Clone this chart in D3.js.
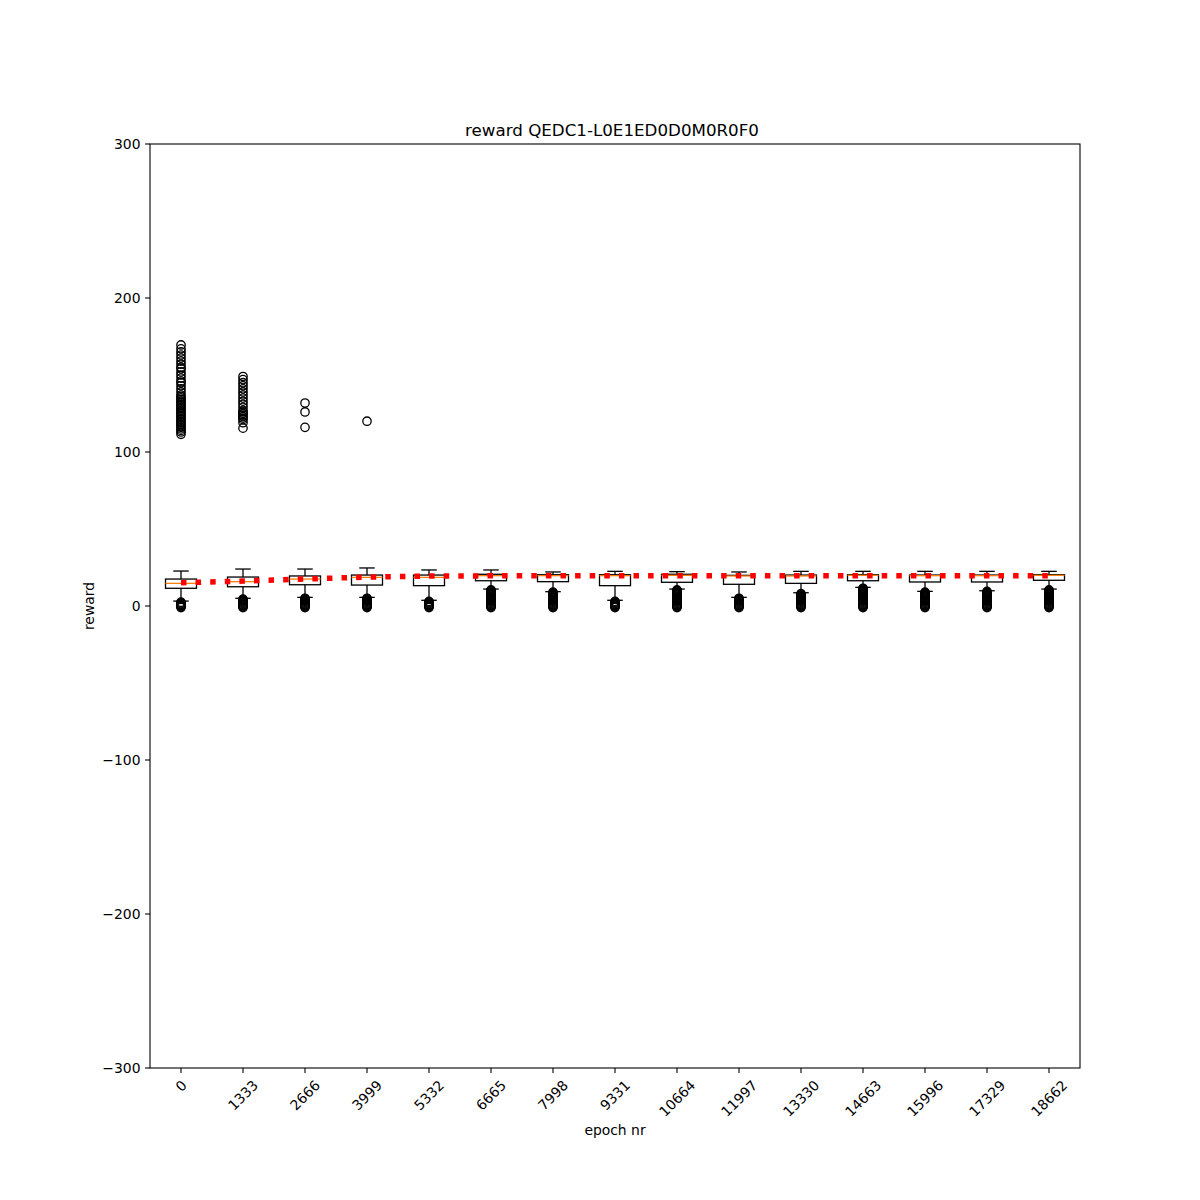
<!DOCTYPE html>
<html><head><meta charset="utf-8">
<script src="https://cdn.jsdelivr.net/npm/d3@7"></script>
<style>body{margin:0;background:#fff}svg{display:block;font-family:"DejaVu Sans",sans-serif}</style>
</head><body><svg id="c" width="1200" height="1200"></svg>
<script>
const categories = ["0","1333","2666","3999","5332","6665","7998","9331","10664","11997","13330","14663","15996","17329","18662"];
const q1 = [11.5,12.5,13.8,13.6,13.2,16.4,15.8,13.2,15.4,14.1,14.7,16.4,15.6,15.6,16.7];
const medians = [14.7,15.8,17.5,18.6,18.6,19.7,19.7,19.7,19.9,19.5,19.5,19.9,19.7,19.7,19.9];
const q3 = [17.5,18.8,19.5,20.1,20.1,20.6,20.3,20.3,20.6,19.9,20.1,20.3,20.1,20.1,20.3];
const whiskerLow = [3.2,5.0,5.6,5.6,3.7,11.0,9.3,3.7,11.0,5.6,8.6,12.1,9.5,9.9,11.0];
const whiskerHigh = [22.7,24.0,24.0,24.7,23.4,23.4,22.1,22.5,22.3,22.1,22.5,22.5,22.5,22.5,22.5];
const means = [15.1,16.2,17.5,18.8,19.4,19.6,19.6,19.6,19.7,19.6,19.6,19.7,19.7,19.7,19.7];
const outliersHigh = [
  [111.5,113,114,115,116,117,118,119,120,121,122,123,124,125,126,127,128,129,130,131,132,133,134,135,136,137,139,141,143,145,146,148,150,152,154,155,157,159,161,163,165,167,169.5],
  [115.5,119,121,122,123,124,125,126,127,129,131,133,135,137,139,141,143,145,147,149],
  [116,126,131.8],
  [120],
  [],[],[],[],[],[],[],[],[],[],[]
];
const outliersLow = [
  [2.5,2,1.5,1,0.5,0,-0.5,-1],
  [4.5,4,3.5,3,2.5,2,1.5,1,0.5,0,-0.5,-1],
  [5,4.5,4,3.5,3,2.5,2,1.5,1,0.5,0,-0.5,-1],
  [5,4.5,4,3.5,3,2.5,2,1.5,1,0.5,0,-0.5,-1],
  [3,2.5,2,1.5,1,0.5,0,-0.5,-1],
  [10.5,10,9.5,9,8.5,8,7.5,7,6.5,6,5.5,5,4.5,4,3.5,3,2.5,2,1.5,1,0.5,0,-0.5,-1],
  [9,8.5,8,7.5,7,6.5,6,5.5,5,4.5,4,3.5,3,2.5,2,1.5,1,0.5,0,-0.5,-1],
  [3,2.5,2,1.5,1,0.5,0,-0.5,-1],
  [10.5,10,9.5,9,8.5,8,7.5,7,6.5,6,5.5,5,4.5,4,3.5,3,2.5,2,1.5,1,0.5,0,-0.5,-1],
  [5,4.5,4,3.5,3,2.5,2,1.5,1,0.5,0,-0.5,-1],
  [8,7.5,7,6.5,6,5.5,5,4.5,4,3.5,3,2.5,2,1.5,1,0.5,0,-0.5,-1],
  [11.5,11,10.5,10,9.5,9,8.5,8,7.5,7,6.5,6,5.5,5,4.5,4,3.5,3,2.5,2,1.5,1,0.5,0,-0.5,-1],
  [9,8.5,8,7.5,7,6.5,6,5.5,5,4.5,4,3.5,3,2.5,2,1.5,1,0.5,0,-0.5,-1],
  [9.5,9,8.5,8,7.5,7,6.5,6,5.5,5,4.5,4,3.5,3,2.5,2,1.5,1,0.5,0,-0.5,-1],
  [10.5,10,9.5,9,8.5,8,7.5,7,6.5,6,5.5,5,4.5,4,3.5,3,2.5,2,1.5,1,0.5,0,-0.5,-1]
];
const yTicks = [-300,-200,-100,0,100,200,300];
const titleText = "reward QEDC1-L0E1ED0D0M0R0F0";
const xLabel = "epoch nr", yLabel = "reward";

const L=150,R=1080,T=144,B=1068;
const svg = d3.select("#c");
const x = d3.scalePoint().domain(categories).range([L,R]).padding(0.5);
const y = d3.scaleLinear().domain([-300,300]).range([B,T]);
const bw = x.step()*0.5;

const g = svg.append("g");
categories.forEach((c,i)=>{
  const cx = x(c);
  const gg = g.append("g");
  gg.append("line").attr("x1",cx).attr("x2",cx).attr("y1",y(q1[i])).attr("y2",y(whiskerLow[i])).attr("stroke","#000").attr("stroke-width",1.3);
  gg.append("line").attr("x1",cx).attr("x2",cx).attr("y1",y(q3[i])).attr("y2",y(whiskerHigh[i])).attr("stroke","#000").attr("stroke-width",1.3);
  [whiskerLow[i],whiskerHigh[i]].forEach(v=>{
    gg.append("line").attr("x1",cx-bw/4).attr("x2",cx+bw/4).attr("y1",y(v)).attr("y2",y(v)).attr("stroke","#000").attr("stroke-width",1.3);
  });
  gg.append("rect").attr("x",cx-bw/2).attr("width",bw).attr("y",y(q3[i])).attr("height",y(q1[i])-y(q3[i]))
    .attr("fill","none").attr("stroke","#000").attr("stroke-width",1.3);
  gg.append("line").attr("x1",cx-bw/2).attr("x2",cx+bw/2).attr("y1",y(medians[i])).attr("y2",y(medians[i])).attr("stroke","#ff7f0e").attr("stroke-width",1.3);
  outliersHigh[i].concat(outliersLow[i]).forEach(v=>{
    gg.append("circle").attr("cx",cx).attr("cy",y(v)).attr("r",4.2).attr("fill","none").attr("stroke","#000").attr("stroke-width",1.3);
  });
});

svg.append("path").datum(means)
  .attr("d", d3.line().x((d,i)=>x(categories[i])).y(d=>y(d)))
  .attr("fill","none").attr("stroke","#ff0000").attr("stroke-width",5.5).attr("stroke-dasharray","5.5,9.1");

svg.append("rect").attr("x",L).attr("y",T).attr("width",R-L).attr("height",B-T).attr("fill","none").attr("stroke","#000").attr("stroke-width",1.1);

yTicks.forEach(t=>{
  svg.append("line").attr("x1",L).attr("x2",L-4.9).attr("y1",y(t)).attr("y2",y(t)).attr("stroke","#000").attr("stroke-width",1.1);
  svg.append("text").attr("x",L-9.5).attr("y",y(t)).attr("dy","0.36em").attr("text-anchor","end").attr("font-size",13.9)
    .text(t<0?"\u2212"+Math.abs(t):String(t));
});
categories.forEach(c=>{
  const cx=x(c);
  svg.append("line").attr("x1",cx).attr("x2",cx).attr("y1",B).attr("y2",B+4.9).attr("stroke","#000").attr("stroke-width",1.1);
  const t = svg.append("text").attr("font-size",13.9).attr("text-anchor","middle").attr("dominant-baseline","central").text(c);
  const w = t.node().getComputedTextLength();
  const h = 13.9;
  const rh = (w+h)*Math.SQRT1_2;
  const cy = B+4.9+4.9+rh/2;
  t.attr("transform",`translate(${cx},${cy}) rotate(-45)`);
});

svg.append("text").attr("x",(L+R)/2-3).attr("y",136).attr("text-anchor","middle").attr("font-size",16.7).text(titleText);
svg.append("text").attr("x",(L+R)/2).attr("y",1135).attr("text-anchor","middle").attr("font-size",13.9).text(xLabel);
svg.append("text").attr("transform",`translate(94,${(T+B)/2}) rotate(-90)`).attr("text-anchor","middle").attr("font-size",13.9).text(yLabel);
</script></body></html>
